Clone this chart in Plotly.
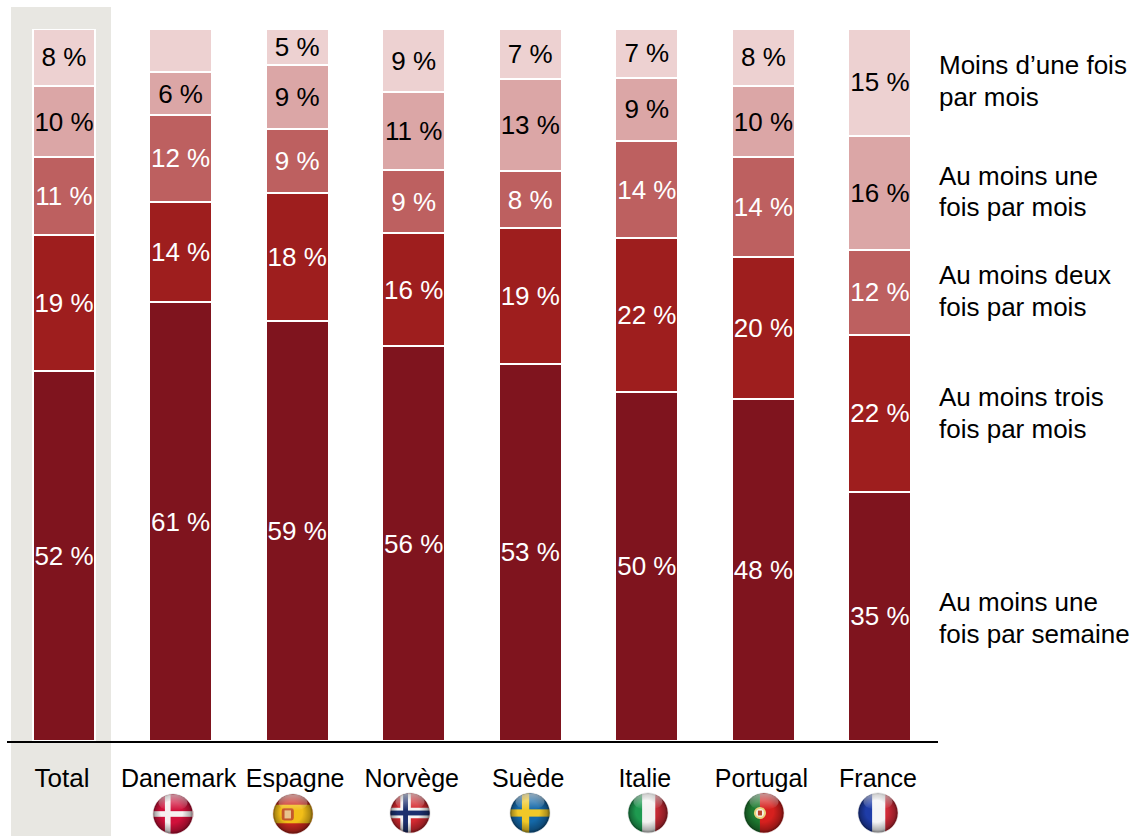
import base64
import plotly.graph_objects as go

# Share of respondents per country, bottom of the stack first
countries = ["Total", "Danemark", "Espagne", "Norvège", "Suède", "Italie", "Portugal", "France"]
weekly = [52, 61, 59, 56, 53, 50, 48, 35]
three_monthly = [19, 14, 18, 16, 19, 22, 20, 22]
two_monthly = [11, 12, 9, 9, 8, 14, 14, 12]
monthly = [10, 6, 9, 11, 13, 9, 10, 16]
rarely = [8, 6, 5, 9, 7, 7, 8, 15]

series_names = [
    "Au moins une fois par semaine",
    "Au moins trois fois par mois",
    "Au moins deux fois par mois",
    "Au moins une fois par mois",
    "Moins d’une fois par mois",
]
series_values = [weekly, three_monthly, two_monthly, monthly, rarely]
series_colors = ["#7F141E", "#9E1E1E", "#BD6060", "#DBA6A6", "#EDD1D1"]
text_colors = ["white", "white", "white", "black", "black"]

# Side captions, one entry per text line, with the vertical pixel of its centre
caption_lines = [
    ("Moins d’une fois", 65), ("par mois", 97),
    ("Au moins une", 176), ("fois par mois", 207),
    ("Au moins deux", 275), ("fois par mois", 307),
    ("Au moins trois", 397), ("fois par mois", 429),
    ("Au moins une", 602), ("fois par semaine", 634),
]

FONT = "Liberation Sans"
WIDTH, HEIGHT = 1134, 836
LEFT, RIGHT, TOP, BOTTOM = 7, 938, 29, 741


def paper_x(px):
    return (px - LEFT) / (RIGHT - LEFT)


def paper_y(px):
    return (BOTTOM - px) / (BOTTOM - TOP)


def rect(x, y, w, h, fill):
    return f'<rect x="{x}" y="{y}" width="{w}" height="{h}" fill="{fill}"/>'


def emblem(cx, cy):
    # Small coat of arms shared by the Iberian flags
    return (
        f'<circle cx="{cx}" cy="{cy}" r="15" fill="#E9D27A"/>'
        f'<circle cx="{cx}" cy="{cy}" r="10" fill="#F4F0E4"/>'
        f'<rect x="{cx - 5}" y="{cy - 6}" width="10" height="12" fill="#B8442C"/>'
    )


FLAG_BODIES = {
    "Danemark": rect(0, 0, 100, 100, "#D0103A") + rect(30, 0, 14, 100, "#F6F0F0") + rect(0, 43, 100, 14, "#F6F0F0"),
    "Espagne": rect(0, 0, 100, 100, "#C8281E") + rect(0, 27, 100, 46, "#F2BE18")
    + '<rect x="22" y="36" width="30" height="30" rx="6" fill="#C4582C"/>'
    + '<rect x="29" y="41" width="16" height="20" fill="#E8C48C"/>',
    "Norvège": rect(0, 0, 100, 100, "#D42A30") + rect(26, 0, 26, 100, "#F4F4F4") + rect(0, 37, 100, 26, "#F4F4F4")
    + rect(33, 0, 12, 100, "#1C2F6E") + rect(0, 44, 100, 12, "#1C2F6E"),
    "Suède": rect(0, 0, 100, 100, "#1468A8") + rect(30, 0, 18, 100, "#F0C828") + rect(0, 41, 100, 18, "#F0C828"),
    "Italie": rect(0, 0, 36, 100, "#1E9A50") + rect(36, 0, 32, 100, "#F2F2F0") + rect(68, 0, 32, 100, "#C42A34"),
    "Portugal": rect(0, 0, 40, 100, "#1E7A30") + rect(40, 0, 60, 100, "#D6201E") + emblem(40, 50),
    "France": rect(0, 0, 36, 100, "#1E3CA8") + rect(36, 0, 32, 100, "#F4F4F6") + rect(68, 0, 32, 100, "#D02A38"),
}

# Pixel centres of the round flags below the labels
FLAG_CENTRES = {
    "Danemark": (173, 814), "Espagne": (293, 814), "Norvège": (410, 813), "Suède": (530, 813),
    "Italie": (648, 813), "Portugal": (764, 813), "France": (878, 813),
}
FLAG_SIZE = 42


def flag_uri(body, tail=""):
    # A flag clipped to a disc, shaded so that it reads as a glossy ball
    svg = (
        '<svg xmlns="http://www.w3.org/2000/svg" viewBox="-2 -2 104 104" width="104" height="104">'
        '<defs><clipPath id="d"><circle cx="50" cy="50" r="49"/></clipPath>'
        '<radialGradient id="s" cx="50%" cy="50%" r="50%" fx="42%" fy="40%">'
        '<stop offset="55%" stop-color="#000" stop-opacity="0"/>'
        '<stop offset="88%" stop-color="#000" stop-opacity="0.28"/>'
        '<stop offset="100%" stop-color="#000" stop-opacity="0.55"/></radialGradient>'
        '<linearGradient id="h" x1="0" y1="0" x2="0" y2="1">'
        '<stop offset="0%" stop-color="#fff" stop-opacity="0.55"/>'
        '<stop offset="100%" stop-color="#fff" stop-opacity="0"/></linearGradient></defs>'
        f'{tail}<g clip-path="url(#d)">{body}'
        '<circle cx="50" cy="50" r="49" fill="url(#s)"/>'
        '<ellipse cx="50" cy="22" rx="36" ry="20" fill="url(#h)"/></g>'
        '<circle cx="50" cy="50" r="49.5" fill="none" stroke="#999" stroke-opacity="0.5" stroke-width="1.5"/></svg>'
    )
    return "data:image/svg+xml;base64," + base64.b64encode(svg.encode()).decode()


fig = go.Figure()

for name, values, color, text_color in zip(series_names, series_values, series_colors, text_colors):
    fig.add_bar(
        name=name,
        x=countries,
        y=values,
        width=0.54,
        marker=dict(color=color, line=dict(color="white", width=2)),
        text=[f"{v} %" for v in values],
        textposition="inside",
        insidetextanchor="middle",
        constraintext="none",
        textangle=0,
        textfont=dict(family=FONT, size=26, color=text_color),
        cliponaxis=False,
    )

images = []
for country, (cx, cy) in FLAG_CENTRES.items():
    tail = ""
    if country == "Danemark":
        # The white arm of this flag pokes out past the disc
        tail = '<rect x="90" y="43" width="13" height="14" fill="#F0D8D8"/>'
    images.append(dict(
        source=flag_uri(FLAG_BODIES[country], tail),
        xref="paper", yref="paper",
        x=paper_x(cx), y=paper_y(cy),
        sizex=FLAG_SIZE / (RIGHT - LEFT), sizey=FLAG_SIZE / (BOTTOM - TOP),
        xanchor="center", yanchor="middle",
        sizing="stretch", layer="above",
    ))

annotations = [
    dict(
        text=line, xref="paper", yref="paper",
        x=paper_x(937), y=paper_y(y_px),
        xanchor="left", yanchor="middle", showarrow=False,
        font=dict(family=FONT, size=26, color="black"),
    )
    for line, y_px in caption_lines
]

tick_text = [f'<span style="font-size:26px">{c}</span>' if c == "Total" else c for c in countries]

fig.update_layout(
    width=WIDTH,
    height=HEIGHT,
    barmode="stack",
    barnorm="percent",
    showlegend=False,
    paper_bgcolor="white",
    plot_bgcolor="rgba(0,0,0,0)",
    margin=dict(l=LEFT, r=WIDTH - RIGHT, t=TOP, b=HEIGHT - BOTTOM, autoexpand=False),
    font=dict(family=FONT, color="black"),
    xaxis=dict(
        type="category",
        categoryorder="array",
        categoryarray=countries,
        range=[-0.489, 7.498],
        showgrid=False,
        showline=True,
        linecolor="black",
        linewidth=2,
        ticks="",
        tickmode="array",
        tickvals=countries,
        ticktext=tick_text,
        tickangle=0,
        tickfont=dict(family=FONT, size=25, color="black"),
        ticklabelshift=-2,
        ticklabelstandoff=14,
    ),
    yaxis=dict(range=[0, 100], visible=False, fixedrange=True),
    shapes=[dict(
        type="rect", layer="below", xref="paper", yref="paper",
        x0=paper_x(11), x1=paper_x(111), y0=paper_y(836), y1=paper_y(7),
        fillcolor="#E8E7E2", line=dict(width=0),
    )],
    images=images,
    annotations=annotations,
)

fig.write_html("out.html")
